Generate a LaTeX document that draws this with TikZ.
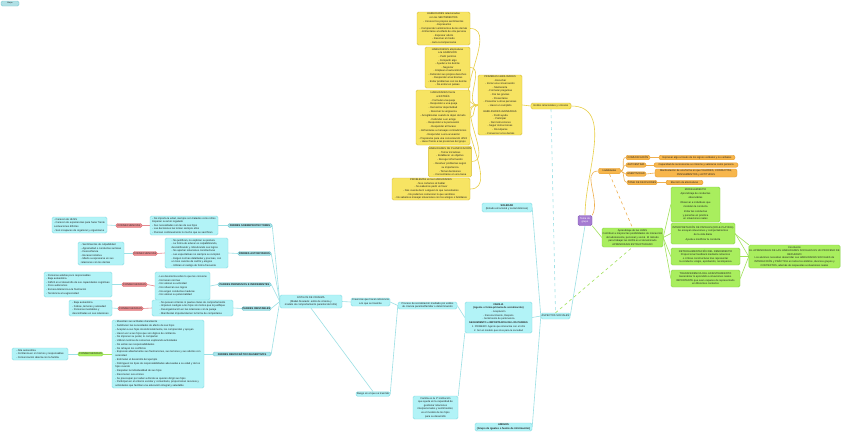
\documentclass[tikz,border=0pt]{standalone}
\usepackage{fontspec}
\setmainfont{Liberation Sans}
\usetikzlibrary{backgrounds}
\definecolor{yfill}{HTML}{F7E463}
\definecolor{ydraw}{HTML}{D8BE3A}
\definecolor{yline}{HTML}{E8CE45}
\definecolor{cfill}{HTML}{B2F3F7}
\definecolor{cdraw}{HTML}{86DCE3}
\definecolor{cline}{HTML}{9CE0E5}
\definecolor{gfill}{HTML}{A9EE5E}
\definecolor{gdraw}{HTML}{86D444}
\definecolor{gline}{HTML}{A2E25C}
\definecolor{ofill}{HTML}{F7B64C}
\definecolor{odraw}{HTML}{E39B2E}
\definecolor{oline}{HTML}{EFB050}
\definecolor{rfill}{HTML}{EE8E92}
\definecolor{rdraw}{HTML}{D96F75}
\definecolor{rline}{HTML}{E58A90}
\definecolor{pfill}{HTML}{A57BD2}
\definecolor{pdraw}{HTML}{8459B5}
\definecolor{tfill}{HTML}{A6E4EA}
\definecolor{tdraw}{HTML}{7CCBD3}
\definecolor{txt}{HTML}{222222}
\begin{document}
\begin{tikzpicture}[x=1pt,y=-1pt,
 base/.style={rounded corners=1.5pt, line width=0.4pt, inner sep=0.5pt, align=center, text=txt, font=\fontsize{2.6}{3.55}\selectfont},
 ybox/.style={base, fill=yfill, draw=ydraw},
 cbox/.style={base, fill=cfill, draw=cdraw},
 lbox/.style={cbox, align=left},
 gbox/.style={base, fill=gfill, draw=gdraw},
 obox/.style={base, fill=ofill, draw=odraw, rounded corners=2pt},
 rtag/.style={base, fill=rfill, draw=rdraw, font=\fontsize{2.6}{3}\selectfont},
 gtag/.style={base, fill=gfill, draw=gdraw, font=\fontsize{2.6}{3}\selectfont},
 ptag/.style={base, fill=tfill, draw=tdraw, font=\fontsize{2.6}{3}\selectfont\bfseries},
 sz/.style 2 args={minimum width=#1, minimum height=#2},
 yl/.style={draw=yline, line width=0.6pt},
 cl/.style={draw=cline, line width=0.6pt},
 gl/.style={draw=gline, line width=0.6pt},
 ol/.style={draw=oline, line width=0.6pt},
 rl/.style={draw=rline, line width=0.6pt},
]
\useasboundingbox (0,0) rectangle (848,442);

% header tag
\node[base, fill=tdraw!60, draw=tdraw, sz={18}{5}, font=\fontsize{2}{2.5}\selectfont] (tag) at (10,3.5) {Mapa};

% ---------- yellow cluster ----------
\node[ybox, sz={53}{33}] (y1) at (443.5,28.5) {HABILIDADES relacionadas\\con los SENTIMIENTOS\\- Conocer los propios sentimientos\\- Expresarlos\\- Comprender sentimientos de los demás\\- Enfrentarse al enfado de otra persona\\- Expresar afecto\\- Resolver el miedo\\- Auto-recompensarse};
\node[ybox, sz={45}{41}] (y2) at (447.5,67.5) {HABILIDADES alternativas\\a la AGRESIÓN\\- Pedir permiso\\- Compartir algo\\- Ayudar a los demás\\- Negociar\\- Emplear el autocontrol\\- Defender sus propios derechos\\- Responder a las bromas\\- Evitar problemas con los demás\\- No entrar en peleas};
\node[ybox, sz={54}{55}, font=\fontsize{2.6}{3.8}\selectfont] (y3) at (443,117.5) {HABILIDADES frente\\al ESTRÉS\\- Formular una queja\\- Responder a una queja\\- Demostrar deportividad\\- Resolver la vergüenza\\- Arreglárselas cuando le dejan de lado\\- Defender a un amigo\\- Responder a la persuasión\\- Responder al fracaso\\- Enfrentarse a mensajes contradictorios\\- Responder a una acusación\\- Prepararse para una conversación difícil\\- Hacer frente a las presiones del grupo};
\node[ybox, sz={40}{31}, font=\fontsize{2.6}{3.8}\selectfont] (y4) at (450,161.5) {HABILIDADES DE PLANIFICACIÓN\\- Tomar iniciativas\\- Establecer un objetivo\\- Recoger información\\- Resolver problemas según\\su importancia\\- Tomar decisiones\\- Concentrarse en una tarea};
\node[ybox, sz={78}{22}] (y5) at (431,189) {PROBLEMAS en las HABILIDADES\\- Nos cortamos al hablar\\- No sabemos pedir un favor\\- Nos cuesta decir a alguien lo que necesitamos\\- No podemos comunicar lo que sentimos\\- No sabemos manejar situaciones con los amigos o familiares};
\node[ybox, sz={44}{60}] (y6) at (500,105) {PRIMERAS HABILIDADES\\- Escuchar\\- Iniciar una conversación\\- Mantenerla\\- Formular preguntas\\- Dar las gracias\\- Presentarse\\- Presentar a otras personas\\- Hacer un cumplido\\[3pt]HABILIDADES AVANZADAS\\- Pedir ayuda\\- Participar\\- Dar instrucciones\\- Seguir instrucciones\\- Disculparse\\- Convencer a los demás};
\node[ybox, sz={40}{6}] (y7) at (551,106) {Estilos relacionales y vínculos};

% ---------- purple / orange ----------
\node[base, fill=pfill, draw=pdraw, sz={14}{10}, text=white] (p) at (585,220.5) {Tema de\\grupo};
\node[obox, sz={22}{5.5}] (o0) at (609.5,171) {Habilidades};
\node[obox, sz={24}{4.5}] (o1) at (638,157.5) {COMUNICACIÓN};
\node[obox, sz={76}{4.5}] (o1d) at (697,157.5) {Expresar algo a través de los signos verbales y no verbales};
\node[obox, sz={20}{4.5}] (o2) at (636,165) {AUTOESTIMA};
\node[obox, sz={84}{4.5}] (o2d) at (696,165) {Capacidad de reconocerse a sí mismo y valorarse como persona};
\node[obox, sz={20}{4.5}] (o3) at (636,174) {ASERTIVIDAD};
\node[obox, sz={82}{8}] (o3d) at (696,173) {Manifestación de una forma en que VALORES, CONDUCTAS,\\PENSAMIENTOS y ACTITUDES};
\node[obox, sz={30}{4.5}] (o4) at (642,182.5) {TOMA DE DECISIONES};
\node[obox, sz={37}{4.5}] (o4d) at (684.5,182.5) {Elección de alternativas};

% ---------- green ----------
\node[gbox, sz={61}{19}] (g0) at (632.5,237.5) {Aprendizaje de las HHSS\\Contribuir a mejorar las posibilidades de interacción\\del adolescente, personal y social. El método\\para trabajar las HHSS es el denominado\\APRENDIZAJE ESTRUCTURADO};
\node[gbox, sz={49}{35}] (g1) at (695.5,204.5) {MODELAMIENTO\\Aprendizaje de conductas\\observables\\[2pt]Observar a individuos que\\modelan la conducta\\[2pt]Imitar las conductas\\y ponerlas en práctica\\en situaciones reales};
\node[gbox, sz={64}{21}] (g2) at (703,233.5) {INTERPRETACIÓN DE PAPELES (ROLE-PLAYING)\\Se ensayan situaciones y comportamientos\\de la vida diaria\\[2pt]Ayuda a modificar la conducta};
\node[gbox, sz={69}{17}] (g3) at (705.5,256.5) {RETROALIMENTACIÓN DEL RENDIMIENTO\\Proporcionar feedback mediante refuerzos\\o críticas constructivas tras representar\\la conducta: elogio, aprobación, recompensa};
\node[gbox, sz={69}{17}] (g4) at (705.5,278.5) {TRANSFERENCIA DEL ADIESTRAMIENTO\\Generalizar lo aprendido a situaciones reales.\\IMPORTANTE que sean capaces de representarlo\\en diferentes contextos};
\node[gbox, sz={85}{23}] (gc) at (794.5,256.5) {Conclusión\\EL APRENDIZAJE DE LAS HABILIDADES SOCIALES ES UN PROCESO DE\\REFUERZO\\Los alumnos necesitan desarrollar sus HABILIDADES SOCIALES de\\INTERACCIÓN y PRÁCTICA en todos los ámbitos, diversos grupos y\\CONTEXTOS, además de respuestas a situaciones reales};

% ---------- cyan middle ----------
\node[cbox, sz={50}{9}] (sol) at (507,207.5) {\textbf{SOLEDAD}\\(Estado emocional y social doloroso)};
\node[cbox, sz={67}{31}, font=\fontsize{2.5}{3.7}\selectfont] (fam) at (498.5,317.5) {\textbf{FAMILIA}\\\textbf{(Agente o forma primaria de socialización)}\\- Aceptación\\- Reconocimiento, Respeto\\- Sentimiento de pertenencia\\\textbf{SEGUIMIENTO e IMPORTANCIA DE LOS PADRES}\\1. PRIMERO: Agente que interactúa con el niño\\2. Son el modelo que sirve para la sociedad};
\node[cbox, sz={57}{8}] (ami) at (503.5,427) {\textbf{AMIGOS}\\\textbf{(Grupo de iguales o fuente de información)}};
\node[cbox, sz={29}{6}] (as) at (555.5,316) {ASPECTOS SOCIALES};
\node[cbox, sz={45}{23}] (fam1) at (435.5,407.5) {Familia es la 1ª institución\\que ayuda en la capacidad de\\gestionar relaciones\\interpersonales y sentimientos;\\es el modelo de los hijos\\para su desarrollo};

% ---------- center ----------
\node[cbox, sz={62}{13}] (ec) at (311,301.5) {ESTILOS DE CRIANZA\\(Mabel Alvarado: estilo de crianza y\\modelo de comportamiento parental del niño)};
\node[cbox, sz={39}{8}] (cx) at (370.5,302) {Creencias que hacen referencia\\a lo que se trasmite};
\node[cbox, sz={59}{7}] (pr) at (427.5,305.5) {Proceso de socialización mediado por estilos\\de crianza parental/familiar o determinación};
\node[cbox, sz={34}{4.5}] (rg) at (373,394) {Rasgo en el que se trasmite};

% ---------- left ----------
\node[ptag, sz={44}{4}] (ps) at (250,225.5) {PADRES SOBREPROTECTORES};
\node[lbox, sz={68}{19}] (b1) at (184,225.5) {- No importa la edad, siempre son tratados como niños\\Esperan su amor regalado\\- Sus necesidades son las de sus hijos\\- Las decisiones las toman siempre ellos\\- Piensan continuamente lo mucho que se sacrifican};
\node[rtag, sz={26}{4}] (c1) at (129,225.5) {CONSECUENCIAS};
\node[lbox, sz={55}{16}] (a1) at (79.5,225) {- Carecen de HHSS\\- Carecen de experiencias para hacer frente\\a situaciones difíciles\\- Son incapaces de organizar y organizarse};

\node[ptag, sz={33}{4}] (pa) at (254.5,253.5) {PADRES AUTORITARIOS};
\node[lbox, sz={63}{30}] (b2) at (196.5,253) {- No justifican, no explican su postura\\- La forma de educar es culpabilizando,\\descalificando y ridiculizando sus logros\\- No aportan soluciones constructivas\\- Las expectativas no siempre se cumplen\\- Exigen normas detalladas y precisas, con\\un tono carente de cariño y elogios\\- Utilizan el castigo de forma frecuente};
\node[rtag, sz={24}{4}] (c2) at (145,253.5) {CONSECUENCIAS};
\node[lbox, sz={46}{23}] (a2) at (101,253.5) {- Sentimientos de culpabilidad\\- Agresividad o conductas sumisas\\- Desconfianza\\- Escasa iniciativa\\- Miedo a expresarse en sus\\relaciones con los demás};

\node[ptag, sz={53}{4}] (pp) at (244.5,284.5) {PADRES PERMISIVOS E INDIFERENTES};
\node[lbox, sz={55}{28}] (b3) at (182.5,286) {- Les desorienta sobre lo que les conviene\\- No tienen normas\\- No valoran su actividad\\- No refuerzan sus logros\\- No exigen conductas maduras\\- No valoran su potencialidad};
\node[rtag, sz={25}{4}] (c3) at (134.5,284.5) {CONSECUENCIAS};
\node[lbox, sz={68}{25}] (a3) at (78,284.5) {- Personas adultas poco responsables\\- Baja autoestima\\- Déficit en el desarrollo de sus capacidades cognitivas\\- Poco autónomos\\- Escasa tolerancia a la frustración\\- Tendencia a la agresividad};

\node[ptag, sz={29}{4}] (pi) at (256.5,308.5) {PADRES INESTABLES};
\node[lbox, sz={81}{16}] (b4) at (192.5,308) {- No poseen criterios ni pautas claras de comportamiento\\- Imponen castigos a los hijos sin motivo que lo justifique\\- Desorganización en las relaciones con la pareja\\- Manifiestan impulsividad en la forma de comportarse};
\node[rtag, sz={25}{4}] (c4) at (130.5,308.5) {CONSECUENCIAS};
\node[lbox, sz={43}{16}] (a4) at (90.5,308) {- Baja autoestima\\- Fobias, temores y ansiedad\\- Personas inestables y\\desconfiadas en sus relaciones};

\node[ptag, sz={58}{4}] (pd) at (242,354) {PADRES DEMOCRÁTICOS/ASERTIVOS};
\node[lbox, sz={92}{68}, font=\fontsize{2.6}{3.75}\selectfont] (b5) at (158,354) {- Muestran sus actitudes claramente\\- Satisfacen las necesidades de afecto de sus hijos\\- Aceptan a sus hijos incondicionalmente, los comprenden y apoyan\\- Hacen ver a sus hijos que son dignos de confianza\\- No imponen su poder, lo comparten\\- Utilizan normas de consenso explicando actividades\\- No evitan sus responsabilidades\\- No rehúyen los conflictos\\- Expresan abiertamente sus frustraciones, sus temores y sus afectos con\\serenidad\\- Estimulan el desarrollo del ejemplo\\- Distinguen los tipos de responsabilidades adecuadas a su edad y de los\\hijos cuando\\- Respetan la individualidad de sus hijos\\- Reconocen sus errores\\- Se preocupan por saber a dónde se quieren dirigir sus hijos\\- Participan en el entorno escolar y comunitario, proporcionan recursos y\\actividades que facilitan una educación integral y saludable};
\node[gtag, sz={25}{4}] (c5) at (90.5,354) {CONSECUENCIAS};
\node[lbox, sz={56}{12}] (a5) at (40,354) {- Alta autoestima\\- Confianza en sí mismos y responsables\\- Comunicación abierta con la familia};

% ---------- connectors ----------
\begin{scope}[on background layer]
\fill[white] (0,0) rectangle (848,442);
\foreach \n in {y1,y2,y3,y4,y5} \draw[yl] (\n.east) to[out=0,in=180] (y6.west);
\draw[yl] (y6.east) -- (y7.west);
\draw[yl] (y7.east) to[out=0,in=90] (p.north);
\draw[cl, dashed] (y7.south) -- (as.north);
\draw[ol] (p.north east) to[out=60,in=180] (o0.west);
\draw[ol, dashed] (o0.south) -- (g0.north);
\foreach \n in {o1,o2,o3,o4} \draw[ol] (o0.east) to[out=0,in=180] (\n.west);
\draw[ol] (o1.east) -- (o1d.west);
\draw[ol] (o2.east) -- (o2d.west);
\draw[ol] (o3.east) -- (o3d.west);
\draw[ol] (o4.east) -- (o4d.west);
\draw[gl] (p.south east) -- (g0.west);
\draw[gl, dashed] (as.north) -- (g0.south);
\foreach \n in {g1,g2,g3,g4} \draw[gl] (g0.east) -- (\n.west);
\draw[gl] (g1.south east) -- (gc.north west);
\draw[gl] (g2.east) -- (gc.west);
\draw[gl] (g3.east) -- (gc.west);
\draw[gl] (g4.east) -- (gc.west);
\draw[cl] (as.east) -- (p.south);
\draw[cl] (as.west) -- (sol.east);
\draw[cl] (as.west) -- (fam.east);
\draw[cl] (as.west) -- (ami.east);
\draw[cl] (fam.west) -- (pr.east);
\draw[cl] (fam.south west) -- (fam1.north east);
\draw[cl] (pr.west) -- (cx.east);
\draw[cl] (cx.west) -- (ec.east);
\draw[cl] (pr.west) -- (rg.east);
\draw[cl] (rg.north) -- (ec.south);
\foreach \n in {ps,pa,pp,pi,pd} \draw[cl] (ec.west) -- (\n.east);
\draw[cl] (ps.west) -- (b1.east); \draw[rl] (b1.west) -- (c1.east); \draw[cl] (c1.west) -- (a1.east);
\draw[cl] (pa.west) -- (b2.east); \draw[rl] (b2.west) -- (c2.east); \draw[cl] (c2.west) -- (a2.east);
\draw[cl] (pp.west) -- (b3.east); \draw[rl] (b3.west) -- (c3.east); \draw[cl] (c3.west) -- (a3.east);
\draw[cl] (pi.west) -- (b4.east); \draw[rl] (b4.west) -- (c4.east); \draw[cl] (c4.west) -- (a4.east);
\draw[cl] (pd.west) -- (b5.east); \draw[gl] (b5.west) -- (c5.east); \draw[cl] (c5.west) -- (a5.east);
\end{scope}
\end{tikzpicture}
\end{document}
